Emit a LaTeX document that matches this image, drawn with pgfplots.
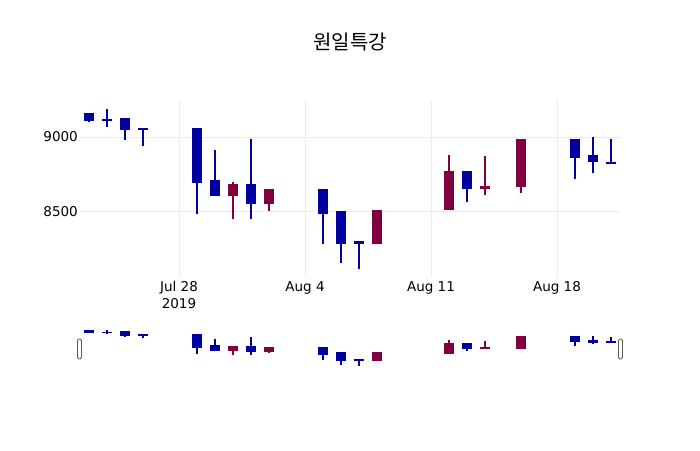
\documentclass[border=0pt]{standalone}
\usepackage{pgfplots}
\usepackage{pgfplotstable}
\pgfplotsset{compat=1.18}
\usepackage{fontspec}
\setmainfont{DejaVu Sans}
\newfontfamily\cjk{Noto Sans CJK KR}

\definecolor{upcol}{RGB}{128,0,64}
\definecolor{downcol}{RGB}{0,0,160}
\definecolor{gridcol}{RGB}{235,235,235}
\definecolor{handlecol}{RGB}{90,90,90}

% day = day counted from Jul 1 (Aug 1 = 32)
% falling days (close < open)
\pgfplotstableread{
day open high low close
23 9160 9160 9100 9110
24 9120 9190 9070 9110
25 9130 9130 8980 9050
26 9060 9060 8940 9050
29 9060 9060 8480 8690
30 8710 8910 8600 8600
32 8680 8990 8450 8550
36 8650 8650 8280 8480
37 8500 8500 8150 8280
38 8300 8300 8110 8280
44 8770 8770 8560 8650
50 8990 8990 8720 8860
51 8880 9000 8760 8830
52 8830 8990 8820 8820
}\downdata

% rising days (close > open)
\pgfplotstableread{
day open high low close
31 8600 8700 8450 8680
33 8550 8650 8500 8650
39 8280 8510 8280 8510
43 8510 8880 8510 8770
45 8650 8870 8610 8670
47 8660 8990 8620 8990
}\updata

\def\wickw{2pt}
\def\bodyext{0pt}
\pgfplotsset{
  wick/.style={draw=none, mark=none, forget plot,
    error bars/.cd, y dir=plus, y explicit, error mark=none,
    error bar style={draw=#1, line width=\wickw}},
  body/.style={draw=none, mark=none, forget plot,
    error bars/.cd, y dir=plus, y explicit, error mark=none,
    error bar style={draw=#1, line width=10.7pt, shorten <=-\bodyext, shorten >=-\bodyext}},
}

\newcommand{\candles}{%
  \addplot[wick=downcol] table[x=day, y=low, y error plus expr=\thisrow{high}-\thisrow{low}] {\downdata};
  \addplot[body=downcol] table[x=day, y=close, y error plus expr=\thisrow{open}-\thisrow{close}] {\downdata};
  \addplot[wick=upcol] table[x=day, y=low, y error plus expr=\thisrow{high}-\thisrow{low}] {\updata};
  \addplot[body=upcol] table[x=day, y=open, y error plus expr=\thisrow{close}-\thisrow{open}] {\updata};
}

\begin{document}
\begin{tikzpicture}
\useasboundingbox (0,0) rectangle (700pt,450pt);

\node[font=\cjk\fontsize{20}{20}\selectfont] at (350pt,408pt) {원일특강};

% main chart
\begin{axis}[
  at={(80pt,173pt)}, anchor=south west,
  scale only axis, width=540pt, height=177pt,
  xmin=22.5, xmax=52.5, ymin=8056, ymax=9250,
  axis line style={draw=none},
  major tick length=0pt,
  xtick={28,35,42,49},
  xticklabels={{Jul 28\\2019}, Aug 4, Aug 11, Aug 18},
  ytick={8500,9000},
  yticklabel={\pgfmathprintnumber[set thousands separator={}]{\tick}},
  /pgf/number format/assume math mode=true,
  xticklabel style={font=\fontsize{13.5}{17}\selectfont, align=center, inner sep=0pt, anchor=north, yshift=-4.5pt},
  yticklabel style={font=\fontsize{13.5}{17}\selectfont, inner sep=0pt, anchor=east, xshift=-2pt},
  grid=major,
  major grid style={draw=gridcol, line width=1pt},
  clip=false,
]
\candles
\end{axis}

% range slider
\def\wickw{1.5pt}
\def\bodyext{0.8pt}
\begin{axis}[
  at={(80pt,82pt)}, anchor=south west,
  scale only axis, width=540pt, height=40pt,
  xmin=22.5, xmax=52.5, ymin=8056, ymax=9250,
  hide axis,
  clip=false,
]
\candles
\end{axis}

\draw[handlecol, fill=white, line width=0.8pt, rounded corners=1.5pt] (77.5pt,91pt) rectangle (81.5pt,111pt);
\draw[handlecol, fill=white, line width=0.8pt, rounded corners=1.5pt] (618.5pt,91pt) rectangle (622.5pt,111pt);
\end{tikzpicture}
\end{document}
